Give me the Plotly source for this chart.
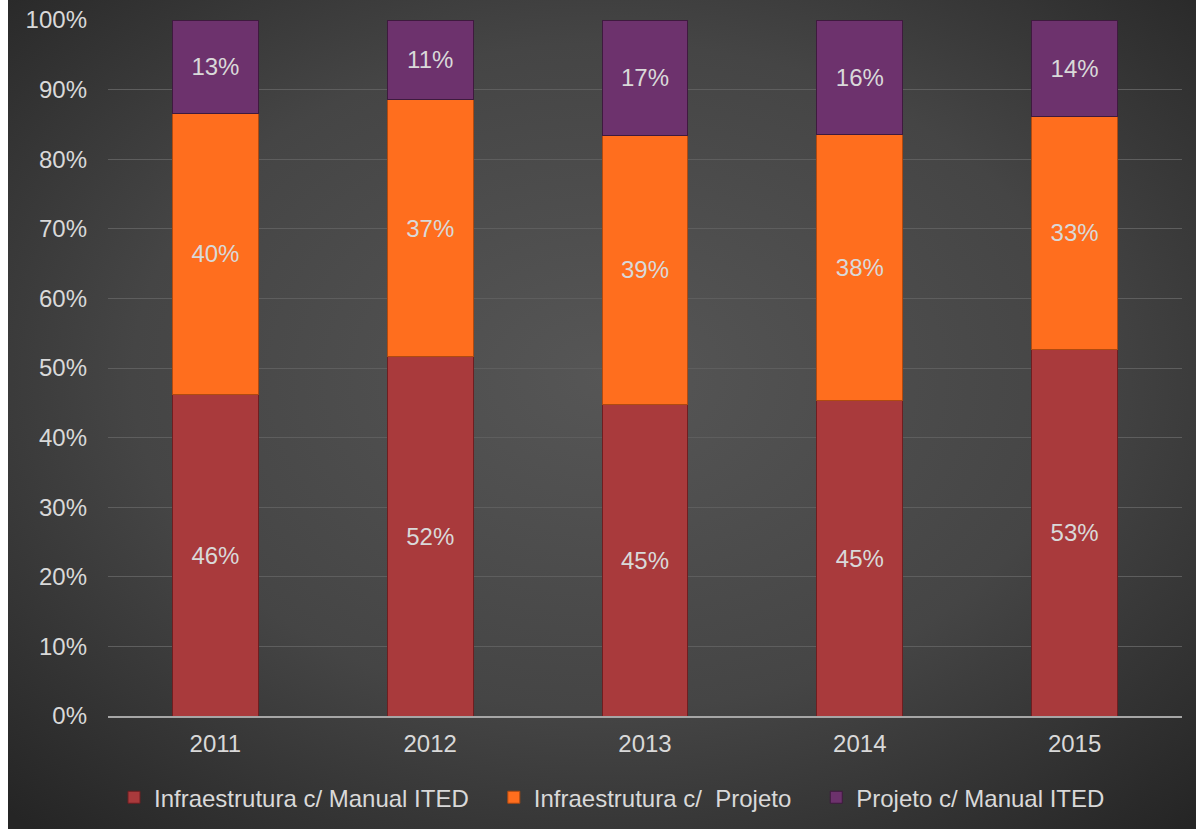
import base64
import plotly.graph_objects as go

years = ["2011", "2012", "2013", "2014", "2015"]
infra_manual = [46.2, 51.6, 44.8, 45.3, 52.7]
infra_projeto = [40.4, 37.0, 38.6, 38.3, 33.4]
projeto_manual = [13.4, 11.4, 16.6, 16.4, 13.9]

series_names = ["Infraestrutura c/ Manual ITED", "Infraestrutura c/\u00a0 Projeto", "Projeto c/ Manual ITED"]
series_values = [infra_manual, infra_projeto, projeto_manual]
series_colors = ["#A93A3C", "#FF6E1E", "#6D326D"]
series_edges = ["#6E1E20", "#B04A10", "#3E1A3E"]

W, H = 1196, 829
ml, mr, mt, mb = 108, 14, 20, 113
pw, ph = W - ml - mr, H - mt - mb
FONT = "Liberation Sans, Arial, sans-serif"
FS = 24
PAD = "\u00a0" * 3

svg = (
    '<svg xmlns="http://www.w3.org/2000/svg" width="1200" height="840">'
    '<defs><radialGradient id="g" cx="50%" cy="45%" r="72%">'
    '<stop offset="0" stop-color="#565656"/>'
    '<stop offset="0.55" stop-color="#454545"/>'
    '<stop offset="1" stop-color="#252525"/>'
    '</radialGradient></defs>'
    '<rect width="100%" height="100%" fill="url(#g)"/></svg>'
)
src = "data:image/svg+xml;base64," + base64.b64encode(svg.encode()).decode()

fig = go.Figure()
n = len(series_names)
for i, (name, vals, col, edge) in enumerate(zip(series_names, series_values, series_colors, series_edges)):
    fig.add_trace(go.Bar(
        x=years, y=vals, name=name + (PAD if i < n - 1 else ""),
        marker=dict(color=col, line=dict(color=edge, width=1)),
        text=[f"{v:.0f}%" for v in vals],
        textposition="inside", insidetextanchor="middle",
        textfont=dict(color="#D9D9D9", size=FS, family=FONT),
        width=0.4,
        hoverinfo="skip",
    ))

fig.update_layout(
    width=W, height=H,
    barmode="stack",
    margin=dict(l=ml, r=mr, t=mt, b=mb, autoexpand=False),
    paper_bgcolor="white",
    plot_bgcolor="rgba(0,0,0,0)",
    font=dict(family=FONT, size=FS, color="#D9D9D9"),
    images=[dict(
        source=src, xref="paper", yref="paper",
        x=(8 - ml) / pw, y=(H - mb + 2) / ph,
        sizex=(W - 8 + 10) / pw, sizey=(H + 12) / ph,
        xanchor="left", yanchor="top", sizing="stretch", layer="below",
    )],
    xaxis=dict(
        showgrid=False, showline=True, linecolor="#A6A6A6", linewidth=2,
        tickfont=dict(size=FS, color="#D9D9D9"), ticks="", ticklabelstandoff=5,
    ),
    yaxis=dict(
        range=[0, 100], dtick=10, ticksuffix="%",
        showgrid=True, gridcolor="#5E5E5E", gridwidth=1,
        zeroline=False, showline=False, ticks="",
        tickfont=dict(size=FS, color="#D9D9D9"), ticklabelstandoff=20,
    ),
    legend=dict(
        orientation="h", x=(612 - ml) / pw, xanchor="center", y=-0.085, yanchor="top",
        bgcolor="rgba(0,0,0,0)", font=dict(size=FS, color="#D9D9D9"),
        traceorder="normal", itemwidth=30,
    ),
    showlegend=True,
)

fig.write_html("out.html")
